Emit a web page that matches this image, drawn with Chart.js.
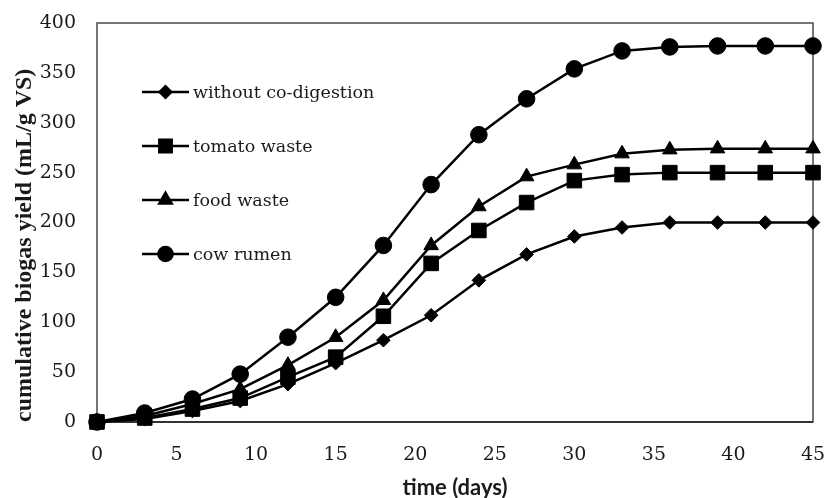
<!DOCTYPE html>
<html><head><meta charset="utf-8">
<script src="https://cdn.jsdelivr.net/npm/chart.js@4"></script>
<style>html,body{margin:0;padding:0;background:#fff}</style>
</head><body>
<canvas id="c" width="828" height="498"></canvas>
<script>
const days = [0,3,6,9,12,15,18,21,24,27,30,33,36,39,42,45];
const withoutCoDigestion = [0,3,11,21,38,59,82,107,142,168,186,195,200,200,200,200];
const tomatoWaste = [0,4,13,24,45,65,106,159,192,220,242,248,250,250,250,250];
const foodWaste = [0,6,18,33,57,85,122,177,216,246,258,269,273,274,274,274];
const cowRumen = [0,9,23,48,85,125,177,238,288,324,354,372,376,377,377,377];
const seriesNames = ['without co-digestion','tomato waste','food waste','cow rumen'];
const xTickValues = [0,5,10,15,20,25,30,35,40,45];
const yTickValues = [0,50,100,150,200,250,300,350,400];

const seriesValues = [withoutCoDigestion, tomatoWaste, foodWaste, cowRumen];
const styles = [
  {pointStyle:'rectRot', r:6.8},
  {pointStyle:'rect', r:10.3},
  {pointStyle:'triangle', r:8.4},
  {pointStyle:'circle', r:8.3}
];

const datasets = seriesValues.map((vals, i) => ({
  label: seriesNames[i],
  data: days.map((d, j) => ({x: d, y: vals[j]})),
  borderColor: '#000',
  backgroundColor: '#000',
  borderWidth: 2.5,
  pointStyle: styles[i].pointStyle,
  pointRadius: styles[i].r,
  pointHoverRadius: styles[i].r,
  pointBackgroundColor: '#000',
  pointBorderColor: '#000',
  pointBorderWidth: 1,
  tension: 0,
  clip: false
}));

const framePlugin = {
  id: 'frame',
  beforeDatasetsDraw(chart) {
    const {ctx, chartArea: a} = chart;
    ctx.save();
    ctx.strokeStyle = '#4a4a4a';
    ctx.lineWidth = 1.5;
    ctx.strokeRect(a.left, a.top, a.right - a.left, a.bottom - a.top);
    ctx.strokeStyle = '#333';
    ctx.lineWidth = 2;
    ctx.beginPath(); ctx.moveTo(a.left, a.bottom); ctx.lineTo(a.right, a.bottom); ctx.stroke();
    ctx.restore();
  }
};

const legendPlugin = {
  id: 'innerLegend',
  afterDatasetsDraw(chart) {
    const {ctx, chartArea: a} = chart;
    ctx.save();
    chart.data.datasets.forEach((ds, i) => {
      const y = a.top + 69 + 54 * i;
      const x0 = a.left + 45, x1 = a.left + 92;
      ctx.strokeStyle = '#000';
      ctx.lineWidth = 2.5;
      ctx.beginPath(); ctx.moveTo(x0, y); ctx.lineTo(x1, y); ctx.stroke();
      ctx.fillStyle = '#000';
      Chart.helpers.drawPoint(ctx, {pointStyle: ds.pointStyle, radius: ds.pointRadius * 0.85, rotation: 0, borderWidth: 1}, (x0 + x1) / 2, y);
      ctx.fillStyle = '#1a1a1a';
      ctx.font = '17.5px "DejaVu Serif"';
      ctx.textBaseline = 'middle';
      ctx.textAlign = 'left';
      ctx.fillText(ds.label, x1 + 4, y + 1);
    });
    ctx.restore();
  }
};

new Chart(document.getElementById('c'), {
  type: 'line',
  data: {datasets},
  plugins: [framePlugin, legendPlugin],
  options: {
    responsive: false,
    animation: false,
    layout: {padding: {top: 23, right: 15, left: 0, bottom: 0}},
    plugins: {legend: {display: false}, tooltip: {enabled: false}},
    scales: {
      x: {
        type: 'linear', min: 0, max: 45,
        afterBuildTicks: s => { s.ticks = xTickValues.map(v => ({value: v})); },
        afterFit: s => { s.height = 76; s.paddingLeft = 0; s.paddingRight = 0; },
        grid: {display: false, drawTicks: false},
        border: {display: false},
        ticks: {color: '#1a1a1a', font: {family: 'DejaVu Serif', size: 19}, padding: 22, maxRotation: 0, autoSkip: false},
        title: {display: true, text: 'time (days)', color: '#1a1a1a', font: {family: 'Lato', weight: 'bold', size: 22}, padding: {top: 0, bottom: -3}}
      },
      y: {
        type: 'linear', min: 0, max: 400,
        afterBuildTicks: s => { s.ticks = yTickValues.map(v => ({value: v})); },
        afterFit: s => { s.width = 97; s.paddingTop = 0; s.paddingBottom = 0; },
        grid: {display: false, drawTicks: false},
        border: {display: false},
        ticks: {color: '#1a1a1a', font: {family: 'DejaVu Serif', size: 19}, padding: 21, autoSkip: false},
        title: {display: true, text: 'cumulative biogas yield (mL/g VS)', align: 'start', color: '#1a1a1a', font: {family: 'Liberation Serif', weight: 'bold', size: 24}, padding: {top: 10, bottom: 0}}
      }
    }
  }
});
</script>
</body></html>
